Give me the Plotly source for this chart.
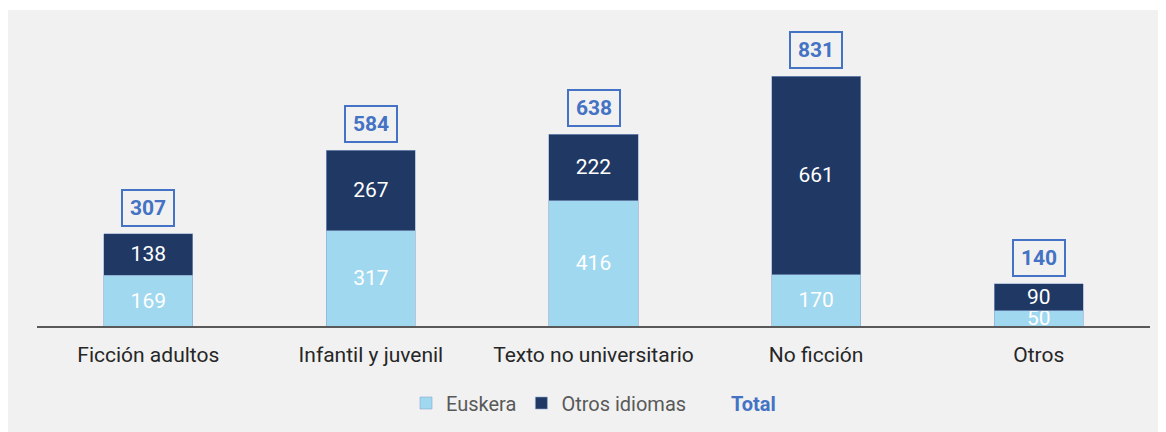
import plotly.graph_objects as go

categories = ["Ficción adultos", "Infantil y juvenil", "Texto no universitario", "No ficción", "Otros"]
euskera = [169, 317, 416, 170, 50]
otros = [138, 267, 222, 661, 90]
totals = [307, 584, 638, 831, 140]

LIGHT = "#9fd8ef"
DARK = "#1f3864"
BLUE = "#4472c4"
BG = "#f1f1f1"
FONT = "Roboto"

W, H = 1166, 432
ml, mr, mt, mb = 29, 24, 20, 114
ph = H - mt - mb
pw = W - ml - mr

fig = go.Figure()
for vals, name, color in [(euskera, "Euskera", LIGHT), (otros, "Otros idiomas", DARK)]:
    fig.add_trace(go.Bar(
        x=categories, y=vals, name=name,
        marker=dict(color=color, line=dict(color="#8fa9cf", width=0.6)),
        text=vals, textposition="inside", insidetextanchor="middle",
        constraintext="none", textangle=0,
        textfont=dict(color="white", size=21, family=FONT),
        hoverinfo="skip",
    ))
fig.add_trace(go.Scatter(
    x=categories, y=totals, mode="markers",
    name=f'<b><span style="color:{BLUE}">Total</span></b>',
    marker=dict(opacity=0, size=1, color="rgba(0,0,0,0)",
                line=dict(width=0, color="rgba(0,0,0,0)")),
    hoverinfo="skip",
))

for c, t in zip(categories, totals):
    fig.add_annotation(
        x=c, y=t, xref="x", yref="y", text=f"<b>{t}</b>",
        showarrow=False, yanchor="bottom", yshift=7,
        font=dict(color=BLUE, size=21, family=FONT),
        bordercolor=BLUE, borderwidth=2, borderpad=3,
        width=44, height=28, bgcolor="rgba(0,0,0,0)",
    )

# thin white strip at the very top
fig.add_shape(
    type="rect", xref="paper", yref="paper", layer="below",
    x0=-1, x1=2, y0=(H - mb - 2) / ph, y1=(H - mb) / ph + 0.05,
    fillcolor="white", line=dict(width=0),
)

fig.update_layout(
    width=W, height=H,
    margin=dict(l=ml, r=mr, t=mt, b=mb),
    barmode="stack", bargap=0.6,
    paper_bgcolor=BG, plot_bgcolor="rgba(0,0,0,0)",
    font=dict(family=FONT, size=20, color="#595959"),
    showlegend=True,
    legend=dict(
        orientation="h", x=0.5, xanchor="center", y=(H - mb - 395) / ph, yanchor="middle",
        font=dict(size=20, color="#595959", family=FONT),
        bgcolor="rgba(0,0,0,0)", traceorder="normal",
    ),
    xaxis=dict(
        showline=True, linecolor="#595959", linewidth=2,
        showgrid=False, zeroline=False,
        ticks="outside", ticklen=9, tickcolor="rgba(0,0,0,0)",
        tickfont=dict(size=21, color="#262626", family=FONT),
        fixedrange=True,
    ),
    yaxis=dict(
        range=[0, ph / (250 / 831)], visible=False, showgrid=False,
        zeroline=False, fixedrange=True,
    ),
)

fig.write_html("out.html")
